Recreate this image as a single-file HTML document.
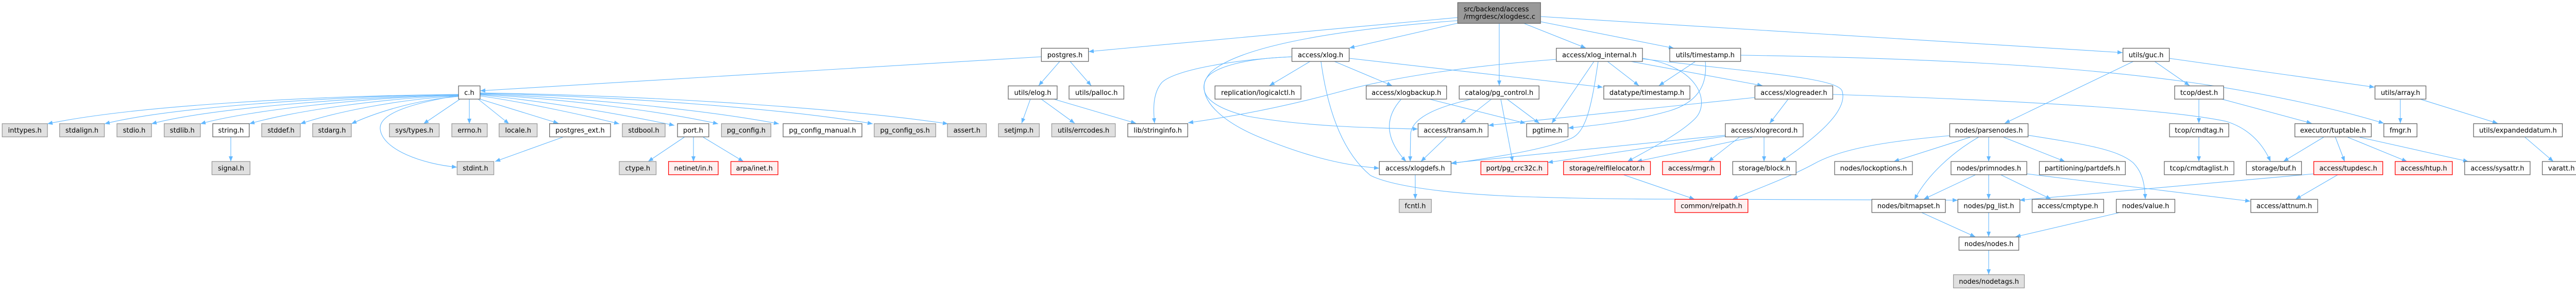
<!DOCTYPE html>
<html><head><meta charset="utf-8"><style>
html,body{margin:0;padding:0;background:#fff;}
body{width:5013px;height:564px;overflow:hidden;}
svg{display:block;}
text{font-family:"DejaVu Sans","Liberation Sans",sans-serif;font-size:13px;fill:#000;}
.e{fill:none;stroke:#63b8ff;stroke-width:1.1;marker-end:url(#ah);}
.w{fill:#fff;stroke:#666;stroke-width:1.3;}
.g{fill:#e0e0e0;stroke:#999;stroke-width:1.3;}
.r{fill:#fff0f0;stroke:#f00;stroke-width:1.3;}
.c{text-anchor:middle;}
</style></head><body>
<svg width="5013" height="564" viewBox="0 0 5013 564" xmlns="http://www.w3.org/2000/svg">
<defs><marker id="ah" viewBox="0 0 10 8" refX="10" refY="4" markerWidth="10" markerHeight="8" markerUnits="userSpaceOnUse" orient="auto"><path d="M0,0L10,4L0,8z" fill="#63b8ff"/></marker></defs>
<g>
<!-- top node edges -->
<path class="e" d="M2829,34 L2113,100"/>
<path class="e" d="M2829,45 L2619,93"/>
<path class="e" d="M2829,40 C2560,60 2400,95 2350,140 C2320,175 2340,205 2420,225 C2530,245 2660,248 2752,250"/>
<path class="e" d="M2957,45 L3078,93"/>
<path class="e" d="M2910,45 L2910,166"/>
<path class="e" d="M2990,42 L3249,93.5"/>
<path class="e" d="M2990,32 L4120,102"/>
<!-- postgres.h -->
<path class="e" d="M2021,110 L932,176"/>
<path class="e" d="M2057,119 L2016,166"/>
<path class="e" d="M2077,119 L2118,166"/>
<!-- elog -->
<path class="e" d="M2000,192 L1983,239"/>
<path class="e" d="M2021,192 L2086,239"/>
<path class="e" d="M2045,192 L2205,239"/>
<!-- xlog.h -->
<path class="e" d="M2508,110 C2400,115 2280,135 2255,160 C2238,180 2238,210 2241,239"/>
<path class="e" d="M2543,119 L2464,166"/>
<path class="e" d="M2590,119 L2702,166"/>
<path class="e" d="M2619,113 L3111,169"/>
<path class="e" d="M2508,110 C2420,113 2345,130 2338,160 C2330,200 2380,240 2450,268 C2530,300 2600,320 2677,326"/>
<path class="e" d="M2564,119 C2575,200 2600,290 2660,340 C2700,360 2800,375 2950,381 C3100,386 3200,386 3300,386 L3800,388"/>
<!-- xlog_internal -->
<path class="e" d="M3021,115 C2850,128 2700,150 2600,178 C2500,205 2400,225 2306,238"/>
<path class="e" d="M3094,119 L3012,239"/>
<path class="e" d="M3120,119 L3181,166"/>
<path class="e" d="M3102,119 C3090,200 3080,255 3050,268 C3000,290 2900,305 2817,317"/>
<path class="e" d="M3188,113 C3300,130 3320,200 3290,230 C3260,260 3200,290 3159,313"/>
<path class="e" d="M3165,119 L3421,166"/>
<path class="e" d="M3188,114 C3400,140 3560,150 3575,175 C3590,215 3520,270 3457,313"/>
<!-- utils/timestamp -->
<path class="e" d="M3291,119 L3220,166"/>
<path class="e" d="M3310,119 C3315,170 3290,200 3240,215 C3170,235 3100,243 3044,248"/>
<path class="e" d="M3379,107 C3700,112 4000,125 4240,158 C4400,180 4550,215 4627,239"/>
<!-- guc -->
<path class="e" d="M4141,119 L3891,239"/>
<path class="e" d="M4182,119 L4250,166"/>
<path class="e" d="M4210,113 L4609,169"/>
<!-- pg_control -->
<path class="e" d="M2895,192 L2835,239"/>
<path class="e" d="M2925,192 L2988,239"/>
<path class="e" d="M2913,192 L2936,313"/>
<path class="e" d="M2857,192 C2800,205 2740,225 2738,260 L2737,313"/>
<!-- xlogbackup -->
<path class="e" d="M2720,192 C2690,225 2685,265 2729,313"/>
<path class="e" d="M2774,192 L2961,239"/>
<path class="e" d="M2807,266 L2758,313"/>
<path class="e" d="M2747,339 L2747,386"/>
<!-- xlogreader -->
<path class="e" d="M3406,189 L2889,243"/>
<path class="e" d="M3471,192 L3435,239"/>
<path class="e" d="M3557,183 C3900,194 4200,210 4320,235 C4370,250 4395,285 4407,313"/>
<!-- xlogrecord -->
<path class="e" d="M3349,262 L2817,316"/>
<path class="e" d="M3349,264 L3004,315"/>
<path class="e" d="M3376,266 L3316,313"/>
<path class="e" d="M3401,266 L3177,313"/>
<path class="e" d="M3424,266 L3424,313"/>
<path class="e" d="M3152,339 L3289,386"/>
<!-- dest etc -->
<path class="e" d="M4268,192 L4268,239"/>
<path class="e" d="M4312,192 L4487,239"/>
<path class="e" d="M4268,266 L4268,313"/>
<path class="e" d="M4659,192 L4659,239"/>
<path class="e" d="M4697,192 L4848,239"/>
<path class="e" d="M4901,266 L4956,313"/>
<path class="e" d="M4510,266 L4432,313"/>
<path class="e" d="M4533,266 L4551,313"/>
<path class="e" d="M4557,266 L4672,313"/>
<path class="e" d="M4580,266 L4791,313"/>
<path class="e" d="M4491,337 L3920,388"/>
<path class="e" d="M4537,339 L4456,386"/>
<!-- parsenodes -->
<path class="e" d="M3889,266 L4008,313"/>
<path class="e" d="M3936,262 C4050,280 4110,290 4140,315 C4160,335 4163,360 4164,386"/>
<path class="e" d="M3824,266 L3676,313"/>
<path class="e" d="M3860,266 L3860,313"/>
<path class="e" d="M3840,266 C3790,295 3740,340 3716,387"/>
<path class="e" d="M3784,263 C3650,275 3570,290 3520,318 C3470,345 3400,370 3363,386"/>
<!-- primnodes -->
<path class="e" d="M3934,337 L4368,390"/>
<path class="e" d="M3884,339 L3981,386"/>
<path class="e" d="M3834,339 L3734,386"/>
<path class="e" d="M3860,339 L3860,386"/>
<path class="e" d="M3730,412 L3834,459"/>
<path class="e" d="M3860,412 L3860,459"/>
<path class="e" d="M4114,412 L3912,459"/>
<path class="e" d="M3860,485 L3860,532"/>
<!-- c.h -->
<path class="e" d="M890,183 C600,186 260,205 92,240"/>
<path class="e" d="M890,183 C640,187 330,208 203,240"/>
<path class="e" d="M890,184 C680,188 400,211 294,240"/>
<path class="e" d="M890,184 C710,189 480,214 389,240"/>
<path class="e" d="M890,185 C740,190 560,217 484,240"/>
<path class="e" d="M890,186 C770,192 640,220 583,240"/>
<path class="e" d="M890,187 C800,194 720,222 682,240"/>
<path class="e" d="M893,192 L822,240"/>
<path class="e" d="M911,192 L911,240"/>
<path class="e" d="M928,192 L988,240"/>
<path class="e" d="M890,185 C800,200 735,220 738,250 C742,290 820,318 887,324"/>
<path class="e" d="M928,191 L1084,239"/>
<path class="e" d="M932,186 C1000,195 1120,220 1202,240"/>
<path class="e" d="M932,184 C1050,195 1200,220 1309,243"/>
<path class="e" d="M932,183 C1100,192 1280,215 1394,240"/>
<path class="e" d="M932,182 C1150,190 1380,215 1512,240"/>
<path class="e" d="M932,181 C1250,188 1550,215 1694,240"/>
<path class="e" d="M932,180 C1300,186 1650,212 1840,240"/>
<path class="e" d="M1092,266 L961,313"/>
<path class="e" d="M1328,266 L1258,313"/>
<path class="e" d="M1346,266 L1346,313"/>
<path class="e" d="M1365,266 L1443,313"/>
<path class="e" d="M448,266 L448,313"/>
</g>
<g>
<!-- top node -->
<rect x="2829.4" y="5" width="160.8" height="40.3" fill="#999" stroke="#666" stroke-width="1.3"/>
<text x="2841" y="21.8">src/backend/access</text>
<text x="2841" y="36.4">/rmgrdesc/xlogdesc.c</text>

<!-- row1 y=93.5 -->
<rect class="w" x="2021.3" y="93.5" width="91.4" height="25.6"/><text class="c" x="2067" y="110.9">postgres.h</text>
<rect class="w" x="2507.6" y="93.5" width="111.1" height="25.6"/><text class="c" x="2563.2" y="110.9">access/xlog.h</text>
<rect class="w" x="3020.8" y="93.5" width="167.2" height="25.6"/><text class="c" x="3104.4" y="110.9">access/xlog_internal.h</text>
<rect class="w" x="3241" y="93.5" width="137.6" height="25.6"/><text class="c" x="3309.8" y="110.9">utils/timestamp.h</text>
<rect class="w" x="4120.6" y="93.5" width="90" height="25.6"/><text class="c" x="4165.6" y="110.9">utils/guc.h</text>

<!-- row2 y=166.5 -->
<rect class="w" x="890" y="166.5" width="41.8" height="25.6"/><text class="c" x="910.9" y="183.9">c.h</text>
<rect class="w" x="1957" y="166.5" width="94.9" height="25.6"/><text class="c" x="2004.5" y="183.9">utils/elog.h</text>
<rect class="w" x="2075" y="166.5" width="106.4" height="25.6"/><text class="c" x="2128.2" y="183.9">utils/palloc.h</text>
<rect class="w" x="2358.3" y="166.5" width="166.9" height="25.6"/><text class="c" x="2441.8" y="183.9">replication/logicalctl.h</text>
<rect class="w" x="2651.8" y="166.5" width="156" height="25.6"/><text class="c" x="2729.8" y="183.9">access/xlogbackup.h</text>
<rect class="w" x="2832.3" y="166.5" width="155" height="25.6"/><text class="c" x="2909.8" y="183.9">catalog/pg_control.h</text>
<rect class="w" x="3112.9" y="166.5" width="167.2" height="25.6"/><text class="c" x="3196.5" y="183.9">datatype/timestamp.h</text>
<rect class="w" x="3406.3" y="166.5" width="151.1" height="25.6"/><text class="c" x="3481.9" y="183.9">access/xlogreader.h</text>
<rect class="w" x="4221" y="166.5" width="95" height="25.6"/><text class="c" x="4268.5" y="183.9">tcop/dest.h</text>
<rect class="w" x="4609.8" y="166.5" width="98.9" height="25.6"/><text class="c" x="4659.3" y="183.9">utils/array.h</text>

<!-- row3 y=239.7 -->
<rect class="g" x="4.3" y="239.7" width="87.8" height="25.6"/><text class="c" x="48.2" y="257.1">inttypes.h</text>
<rect class="g" x="115.7" y="239.7" width="86.8" height="25.6"/><text class="c" x="159.1" y="257.1">stdalign.h</text>
<rect class="g" x="227" y="239.7" width="67" height="25.6"/><text class="c" x="260.5" y="257.1">stdio.h</text>
<rect class="g" x="318.7" y="239.7" width="70.2" height="25.6"/><text class="c" x="353.8" y="257.1">stdlib.h</text>
<rect class="w" x="413" y="239.7" width="70.7" height="25.6"/><text class="c" x="448.4" y="257.1">string.h</text>
<rect class="g" x="508" y="239.7" width="74.8" height="25.6"/><text class="c" x="545.4" y="257.1">stddef.h</text>
<rect class="g" x="606.9" y="239.7" width="74.9" height="25.6"/><text class="c" x="644.4" y="257.1">stdarg.h</text>
<rect class="g" x="755.8" y="239.7" width="96.7" height="25.6"/><text class="c" x="804.2" y="257.1">sys/types.h</text>
<rect class="g" x="877" y="239.7" width="68.7" height="25.6"/><text class="c" x="911.4" y="257.1">errno.h</text>
<rect class="g" x="968.7" y="239.7" width="73.9" height="25.6"/><text class="c" x="1005.7" y="257.1">locale.h</text>
<rect class="w" x="1066.7" y="239.7" width="118.3" height="25.6"/><text class="c" x="1125.9" y="257.1">postgres_ext.h</text>
<rect class="g" x="1208" y="239.7" width="83" height="25.6"/><text class="c" x="1249.5" y="257.1">stdbool.h</text>
<rect class="w" x="1315" y="239.7" width="60.8" height="25.6"/><text class="c" x="1345.4" y="257.1">port.h</text>
<rect class="g" x="1400.4" y="239.7" width="95.9" height="25.6"/><text class="c" x="1448.4" y="257.1">pg_config.h</text>
<rect class="w" x="1520" y="239.7" width="153" height="25.6"/><text class="c" x="1596.5" y="257.1">pg_config_manual.h</text>
<rect class="g" x="1696.8" y="239.7" width="119.5" height="25.6"/><text class="c" x="1756.6" y="257.1">pg_config_os.h</text>
<rect class="g" x="1839" y="239.7" width="75.5" height="25.6"/><text class="c" x="1876.8" y="257.1">assert.h</text>
<rect class="g" x="1938" y="239.7" width="79.3" height="25.6"/><text class="c" x="1977.7" y="257.1">setjmp.h</text>
<rect class="g" x="2041.4" y="239.7" width="123.4" height="25.6"/><text class="c" x="2103.1" y="257.1">utils/errcodes.h</text>
<rect class="w" x="2189" y="239.7" width="116.4" height="25.6"/><text class="c" x="2247.2" y="257.1">lib/stringinfo.h</text>
<rect class="w" x="2752.5" y="239.7" width="135.9" height="25.6"/><text class="c" x="2820.5" y="257.1">access/transam.h</text>
<rect class="w" x="2963.2" y="239.7" width="80.3" height="25.6"/><text class="c" x="3003.4" y="257.1">pgtime.h</text>
<rect class="w" x="3348.8" y="239.7" width="151.1" height="25.6"/><text class="c" x="3424.4" y="257.1">access/xlogrecord.h</text>
<rect class="w" x="3784.4" y="239.7" width="152.1" height="25.6"/><text class="c" x="3860.5" y="257.1">nodes/parsenodes.h</text>
<rect class="w" x="4211" y="239.7" width="115" height="25.6"/><text class="c" x="4268.5" y="257.1">tcop/cmdtag.h</text>
<rect class="w" x="4454.4" y="239.7" width="148.2" height="25.6"/><text class="c" x="4528.5" y="257.1">executor/tuptable.h</text>
<rect class="w" x="4627" y="239.7" width="64.4" height="25.6"/><text class="c" x="4659.2" y="257.1">fmgr.h</text>
<rect class="w" x="4801.2" y="239.7" width="172.3" height="25.6"/><text class="c" x="4887.4" y="257.1">utils/expandeddatum.h</text>

<!-- row4 y=313 -->
<rect class="g" x="411.4" y="313" width="73.9" height="25.6"/><text class="c" x="448.4" y="330.4">signal.h</text>
<rect class="g" x="887.3" y="313" width="71.2" height="25.6"/><text class="c" x="922.9" y="330.4">stdint.h</text>
<rect class="g" x="1202" y="313" width="71.5" height="25.6"/><text class="c" x="1237.8" y="330.4">ctype.h</text>
<rect class="r" x="1297.6" y="313" width="96.4" height="25.6"/><text class="c" x="1345.8" y="330.4">netinet/in.h</text>
<rect class="r" x="1418.6" y="313" width="91.4" height="25.6"/><text class="c" x="1464.3" y="330.4">arpa/inet.h</text>
<rect class="w" x="2677.3" y="313" width="139.2" height="25.6"/><text class="c" x="2746.9" y="330.4">access/xlogdefs.h</text>
<rect class="r" x="2874.4" y="313" width="129.8" height="25.6"/><text class="c" x="2939.3" y="330.4">port/pg_crc32c.h</text>
<rect class="r" x="3034.8" y="313" width="168.7" height="25.6"/><text class="c" x="3119.2" y="330.4">storage/relfilelocator.h</text>
<rect class="r" x="3226.9" y="313" width="112.5" height="25.6"/><text class="c" x="3283.2" y="330.4">access/rmgr.h</text>
<rect class="w" x="3363.2" y="313" width="123" height="25.6"/><text class="c" x="3424.7" y="330.4">storage/block.h</text>
<rect class="w" x="3561" y="313" width="151" height="25.6"/><text class="c" x="3636.5" y="330.4">nodes/lockoptions.h</text>
<rect class="w" x="3786.9" y="313" width="147.1" height="25.6"/><text class="c" x="3860.5" y="330.4">nodes/primnodes.h</text>
<rect class="w" x="3958.4" y="313" width="166.9" height="25.6"/><text class="c" x="4041.9" y="330.4">partitioning/partdefs.h</text>
<rect class="w" x="4200.9" y="313" width="135.1" height="25.6"/><text class="c" x="4268.5" y="330.4">tcop/cmdtaglist.h</text>
<rect class="w" x="4360.2" y="313" width="107.1" height="25.6"/><text class="c" x="4413.8" y="330.4">storage/buf.h</text>
<rect class="r" x="4491" y="313" width="133.9" height="25.6"/><text class="c" x="4558" y="330.4">access/tupdesc.h</text>
<rect class="r" x="4649" y="313" width="111" height="25.6"/><text class="c" x="4704.5" y="330.4">access/htup.h</text>
<rect class="w" x="4783.9" y="313" width="127" height="25.6"/><text class="c" x="4847.4" y="330.4">access/sysattr.h</text>
<rect class="w" x="4934.6" y="313" width="74.1" height="25.6"/><text class="c" x="4971.7" y="330.4">varatt.h</text>

<!-- row5 y=386.3 -->
<rect class="g" x="2715.8" y="386.3" width="62.5" height="25.6"/><text class="c" x="2747" y="403.7">fcntl.h</text>
<rect class="r" x="3251" y="386.3" width="141.7" height="25.6"/><text class="c" x="3321.9" y="403.7">common/relpath.h</text>
<rect class="w" x="3633.3" y="386.3" width="142.7" height="25.6"/><text class="c" x="3704.7" y="403.7">nodes/bitmapset.h</text>
<rect class="w" x="3800.2" y="386.3" width="120.4" height="25.6"/><text class="c" x="3860.4" y="403.7">nodes/pg_list.h</text>
<rect class="w" x="3944.4" y="386.3" width="138.8" height="25.6"/><text class="c" x="4013.8" y="403.7">access/cmptype.h</text>
<rect class="w" x="4107.7" y="386.3" width="113.7" height="25.6"/><text class="c" x="4164.6" y="403.7">nodes/value.h</text>
<rect class="w" x="4368.8" y="386.3" width="129.8" height="25.6"/><text class="c" x="4433.7" y="403.7">access/attnum.h</text>

<!-- row6/7 -->
<rect class="w" x="3802.4" y="459.4" width="116.1" height="25.6"/><text class="c" x="3860.5" y="476.8">nodes/nodes.h</text>
<rect class="g" x="3791.6" y="532.4" width="137.7" height="25.6"/><text class="c" x="3860.5" y="549.8">nodes/nodetags.h</text>
</g>
</svg>
</body></html>
